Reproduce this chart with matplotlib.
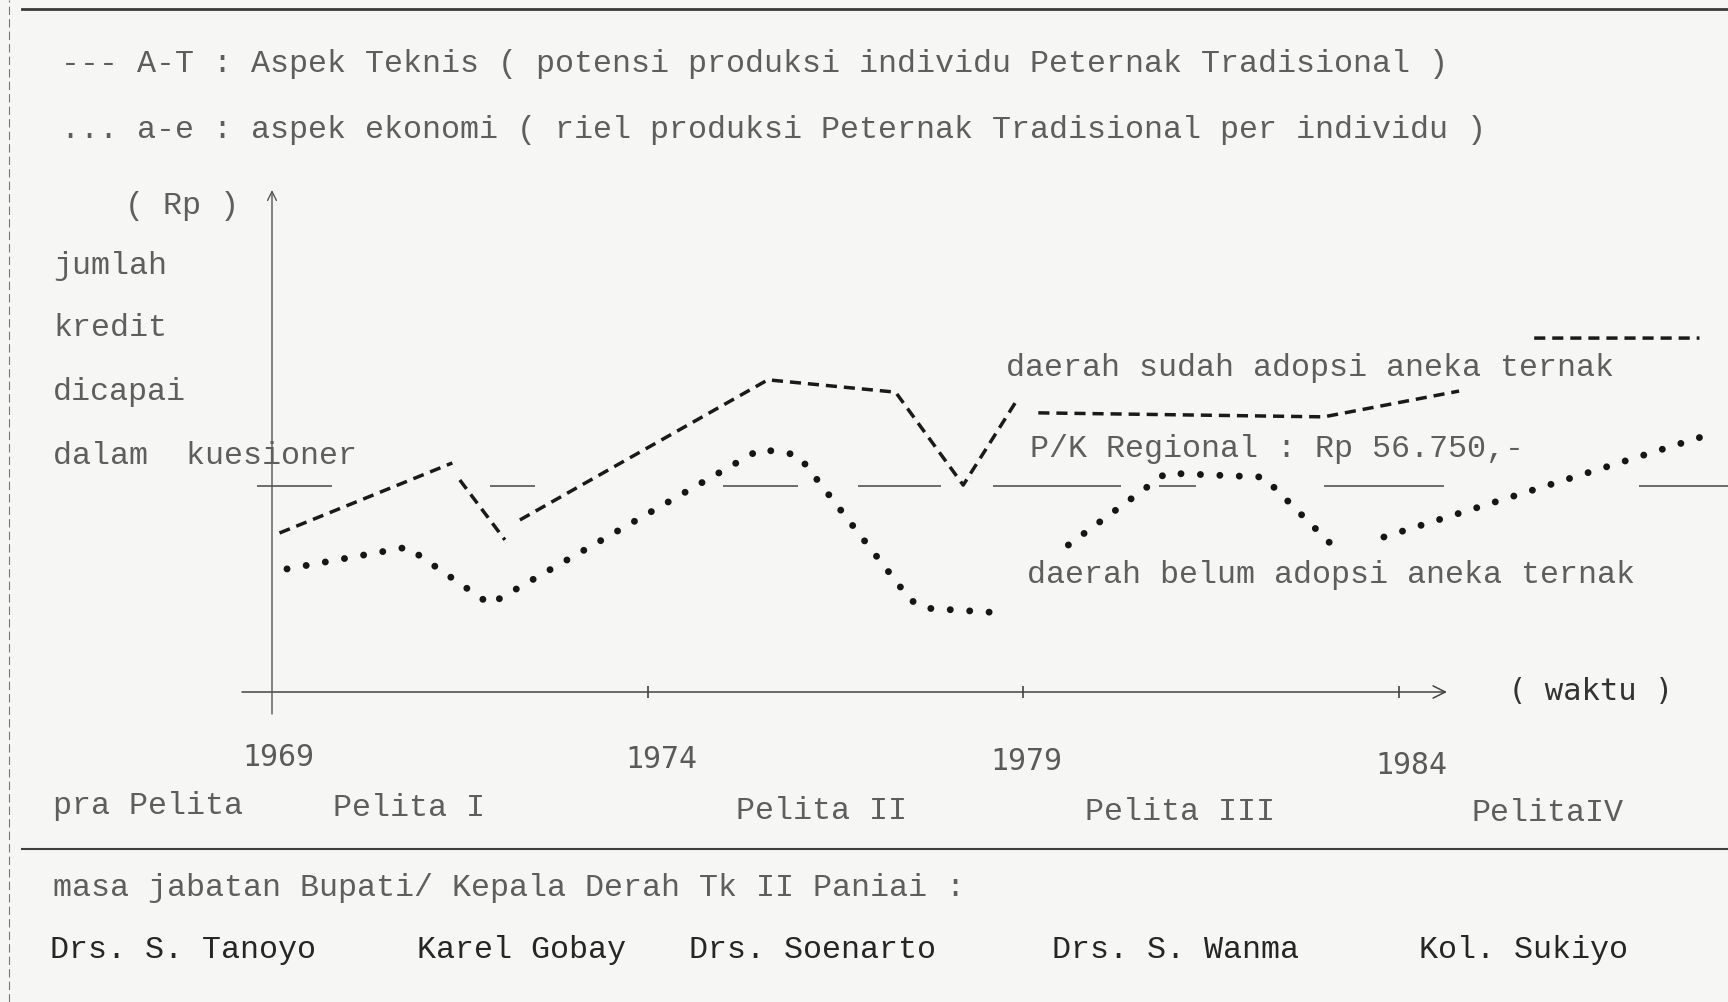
import numpy as np
import matplotlib
matplotlib.use('Agg')
import matplotlib.pyplot as plt
from matplotlib.lines import Line2D

nan = np.nan

# ---------------- data ----------------
# A-T : aspek teknis (dashed line) ; nan = break in the typed line
years_at = [1969.1, 1971.4, nan, 1971.5, 1972.1, nan, 1972.3, 1975.6, 1977.3,
            1978.2, 1978.9, nan, 1979.2, 1983.0, 1984.8, nan, 1985.8, 1988.0]
rp_at = [43800, 63100, nan, 58400, 41900, nan, 47400, 86000, 82600,
         57000, 79900, nan, 76900, 75800, 82900, nan, 97500, 97500]

# a-e : aspek ekonomi (dotted line)
years_ae = [1969.2, 1970.8, 1971.9, 1975.5, 1976.0, 1977.5, 1977.7, 1978.7, nan,
            1979.6, 1980.9, 1982.2, 1983.2, nan, 1983.8, 1988.2]
rp_ae = [33900, 39900, 24200, 66900, 65300, 25300, 23100, 21800, nan,
         40500, 60300, 59200, 38600, nan, 42700, 71400]

# P/K Regional reference (broken horizontal line)
reg_value = 56750
reg_start = [1968.8, 1971.9, 1975.0, 1976.8, 1978.6, 1980.8, 1983.0, 1987.2]
reg_end = [1969.8, 1972.5, 1976.0, 1977.9, 1980.3, 1981.3, 1984.6, 1988.4]

tick_years = [1969, 1974, 1979, 1984]
tick_labels = ['1969', '1974', '1979', '1984']
pelita_labels = ['pra Pelita', 'Pelita I', 'Pelita II', 'Pelita III', 'PelitaIV']
bupati_names = ['Drs. S. Tanoyo', 'Karel Gobay', 'Drs. Soenarto',
                'Drs. S. Wanma', 'Kol. Sukiyo']
ylabel_lines = ['jumlah', 'kredit', 'dicapai', 'dalam  kuesioner']
legend_lines = ['--- A-T : Aspek Teknis ( potensi produksi individu Peternak Tradisional )',
                '... a-e : aspek ekonomi ( riel produksi Peternak Tradisional per individu )']

# ---------------- layout ----------------
W, H = 1728, 1002
X0_PX, PX_PER_YEAR = 272.0, 75.13       # year 1969 at x pixel 272
Y0_PX, RP_PER_PX = 692.0, 56750 / 206.0  # Rp 0 at y pixel 692

def yr(px):
    return 1969 + (px - X0_PX) / PX_PER_YEAR

def rp(py):
    return (Y0_PX - py) * RP_PER_PX

plt.rcParams['lines.scale_dashes'] = False
fig = plt.figure(figsize=(W / 100, H / 100), dpi=100)
fig.patch.set_facecolor('#f6f6f4')
ax = fig.add_axes([0, 0, 1, 1])
ax.set_facecolor('none')
ax.set_xlim(yr(0), yr(W))
ax.set_ylim(rp(H), rp(0))
ax.axis('off')

MONO = 'Liberation Mono'
FS = 22.9
TXT = '#5e5e5e'
DARK = '#262626'

def ftext(px, py, s, **kw):
    kw.setdefault('family', MONO)
    kw.setdefault('fontsize', FS)
    kw.setdefault('color', TXT)
    kw.setdefault('va', 'center')
    kw.setdefault('ha', 'left')
    fig.text(px / W, 1 - py / H, s, **kw)

# frame lines of the typed page
fig.add_artist(Line2D([22 / W, 1], [1 - 9 / H, 1 - 9 / H], color='#3a3a3a', lw=2.0))
fig.add_artist(Line2D([22 / W, 1], [1 - 849 / H, 1 - 849 / H], color='#404040', lw=1.5))
fig.add_artist(Line2D([9 / W, 9 / W], [0, 1], color='#777777', lw=0.8,
                      ls=(0, (6, 3))))

# legend text
for s, py in zip(legend_lines, [64, 130]):
    ftext(61, py, s)

# y label
ftext(125, 206, '( Rp )')
for s, py in zip(ylabel_lines, [266, 328, 392, 456]):
    ftext(53, py, s)

# axes
ax.annotate('', xy=(yr(1447), 0), xytext=(yr(242), 0),
            arrowprops=dict(arrowstyle='->', lw=1.1, color='#444444',
                            mutation_scale=22, shrinkA=0, shrinkB=0))
ax.annotate('', xy=(1969, rp(190)), xytext=(1969, rp(714)),
            arrowprops=dict(arrowstyle='->', lw=1.0, color='#555555',
                            mutation_scale=16, shrinkA=0, shrinkB=0))
ax.plot(tick_years[1:], [0] * 3, ls='none', marker='|', ms=8, mew=1.2, color='#444444')

# regional reference line
ax.hlines([reg_value] * len(reg_start), reg_start, reg_end, colors='#555555', lw=1.2)

# series
ax.plot(years_at, rp_at, color='#1a1a1a', lw=2.5, ls=(0, (8, 5)),
        dash_capstyle='butt')
ax.plot(years_ae, rp_ae, color='#161616', lw=5.0, ls=(0, (0.01, 14)),
        dash_capstyle='round', solid_capstyle='round')

# annotations
ftext(1006, 368, 'daerah sudah adopsi aneka ternak')
ftext(1030, 449, 'P/K Regional : Rp 56.750,-')
ftext(1027, 575, 'daerah belum adopsi aneka ternak')
ftext(1508, 691, '( waktu )', family='DejaVu Sans Mono', fontsize=22.0, color='#333333')

# year tick labels
for lab, px, py in zip(tick_labels, [278, 661, 1026, 1411], [758, 760, 762, 765]):
    ftext(px, py, lab, ha='center', family='DejaVu Sans Mono', fontsize=21.5,
          color='#5a5a5a')

# Pelita periods
for lab, px, py in zip(pelita_labels, [53, 333, 736, 1085, 1471], [806, 808, 811, 812, 813]):
    ftext(px, py, lab)

ftext(53, 888, 'masa jabatan Bupati/ Kepala Derah Tk II Paniai :')
for lab, px in zip(bupati_names, [50, 417, 689, 1052, 1419]):
    ftext(px, 950, lab, color=DARK)

fig.savefig('out.png', dpi=100, facecolor=fig.get_facecolor())
